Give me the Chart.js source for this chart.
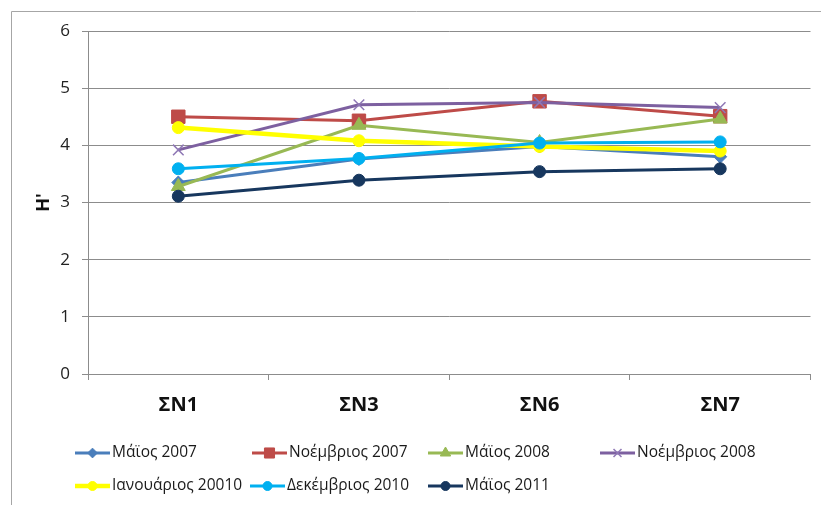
<!DOCTYPE html>
<html>
<head>
<meta charset="utf-8">
<script src="https://cdn.jsdelivr.net/npm/chart.js@4.4.1/dist/chart.umd.min.js"></script>
<style>
  html, body { margin: 0; padding: 0; background: #ffffff; }
  #wrap { width: 821px; height: 505px; position: relative; }
</style>
</head>
<body>
<div id="wrap"><canvas id="c" width="821" height="505"></canvas></div>
<script>
// Stations (x categories) and y-axis ticks
const stations = ['ΣΝ1', 'ΣΝ3', 'ΣΝ6', 'ΣΝ7'];
const yTicks = [0, 1, 2, 3, 4, 5, 6];

// Shannon diversity H' per sampling campaign
const seriesNames = ['Μάϊος 2007', 'Νοέμβριος 2007', 'Μάϊος 2008', 'Νοέμβριος 2008',
                     'Ιανουάριος 20010', 'Δεκέμβριος 2010', 'Μάϊος 2011'];
const may2007 = [3.35, 3.76, 3.98, 3.80];
const nov2007 = [4.50, 4.43, 4.77, 4.51];
const may2008 = [3.28, 4.35, 4.05, 4.46];
const nov2008 = [3.92, 4.71, 4.75, 4.66];
const jan2010 = [4.31, 4.08, 3.98, 3.90];
const dec2010 = [3.59, 3.77, 4.04, 4.06];
const may2011 = [3.11, 3.39, 3.54, 3.59];

const seriesValues = [may2007, nov2007, may2008, nov2008, jan2010, dec2010, may2011];

// Line colour, marker shape, marker radius, line width for each series
const styles = [
  { color: '#4A7EBB', point: 'rectRot',  r: 6.5, w: 3 },
  { color: '#BE4B48', point: 'rect',     r: 9.5, w: 3 },
  { color: '#98B954', point: 'triangle', r: 8,   w: 3 },
  { color: '#7D60A0', point: 'crossRot', r: 7.5, w: 3 },
  { color: '#FFFF00', point: 'circle',   r: 6,   w: 4.5 },
  { color: '#00B0F0', point: 'circle',   r: 6,   w: 3 },
  { color: '#17375E', point: 'circle',   r: 6,   w: 3 }
];

const FONT = '"Open Sans", "Noto Sans", "DejaVu Sans", sans-serif';
const n = seriesValues.length;

const datasets = seriesValues.map((vals, i) => {
  const s = styles[i];
  return {
    label: seriesNames[i],
    data: vals,
    borderColor: s.color,
    backgroundColor: s.color,
    borderWidth: s.w,
    pointStyle: s.point,
    pointRadius: s.r,
    pointHoverRadius: s.r,
    pointBackgroundColor: s.color,
    pointBorderColor: s.point === 'crossRot' ? '#8F78B5' : s.color,
    pointBorderWidth: s.point === 'crossRot' ? 1.5 : 1,
    tension: 0,
    fill: false,
    order: n - 1 - i   // later campaigns drawn on top
  };
});

// Legend slot for each series: left end of the sample line and its row
const legendSlots = [
  { x: 75,  y: 453 }, { x: 252, y: 453 }, { x: 428, y: 453 }, { x: 600, y: 453 },
  { x: 75,  y: 486 }, { x: 250, y: 486 }, { x: 428, y: 486 }
];

const framePlugin = {
  id: 'frame',
  beforeDraw(chart) {
    const ctx = chart.ctx;
    ctx.save();
    ctx.fillStyle = '#ffffff';
    ctx.fillRect(0, 0, chart.width, chart.height);
    ctx.strokeStyle = '#a6a6a6';
    ctx.lineWidth = 1;
    ctx.beginPath();
    ctx.moveTo(11.5, chart.height);
    ctx.lineTo(11.5, 11.5);
    ctx.lineTo(chart.width, 11.5);
    ctx.stroke();
    ctx.restore();
  }
};

const legendPlugin = {
  id: 'gridLegend',
  afterDraw(chart) {
    const ctx = chart.ctx;
    chart.data.datasets.forEach((ds, i) => {
      const p = legendSlots[i];
      const lineLen = 35;
      ctx.save();
      ctx.strokeStyle = ds.borderColor;
      ctx.lineWidth = ds.borderWidth;
      ctx.beginPath();
      ctx.moveTo(p.x, p.y);
      ctx.lineTo(p.x + lineLen, p.y);
      ctx.stroke();
      ctx.fillStyle = ds.pointBackgroundColor;
      ctx.strokeStyle = ds.pointBorderColor;
      ctx.lineWidth = ds.pointBorderWidth;
      const opts = { pointStyle: ds.pointStyle, radius: ds.pointRadius * 0.75, rotation: 0, borderWidth: ds.pointBorderWidth };
      if (Chart.helpers && Chart.helpers.drawPoint) {
        Chart.helpers.drawPoint(ctx, opts, p.x + lineLen / 2, p.y);
      } else {
        ctx.beginPath();
        ctx.arc(p.x + lineLen / 2, p.y, opts.radius, 0, Math.PI * 2);
        ctx.fill();
      }
      ctx.fillStyle = '#1a1a1a';
      ctx.font = '15.5px ' + FONT;
      ctx.textBaseline = 'middle';
      ctx.textAlign = 'left';
      ctx.fillText(ds.label, p.x + lineLen + 2, p.y);
      ctx.restore();
    });
  }
};

new Chart(document.getElementById('c'), {
  type: 'line',
  data: { labels: stations, datasets: datasets },
  plugins: [framePlugin, legendPlugin],
  options: {
    responsive: false,
    animation: false,
    events: [],
    layout: { padding: { left: 0, right: 7, top: 31, bottom: 0 } },
    plugins: {
      legend: { display: false },
      tooltip: { enabled: false },
      title: { display: false }
    },
    scales: {
      x: {
        type: 'category',
        offset: true,
        grid: { display: true, drawOnChartArea: false, drawTicks: true, tickLength: 6, offset: true, color: '#8c8c8c' },
        border: { display: true, color: '#8c8c8c', width: 1 },
        ticks: { font: { family: FONT, size: 20, weight: 'bold' }, color: '#111111', padding: 13, maxRotation: 0 },
        afterFit(scale) { scale.height = 131; }
      },
      y: {
        min: 0,
        max: 6,
        afterBuildTicks(scale) { scale.ticks = yTicks.map(v => ({ value: v })); },
        grid: { color: '#8c8c8c', tickLength: 6, drawTicks: true },
        border: { display: true, color: '#8c8c8c', width: 1 },
        ticks: { font: { family: FONT, size: 17 }, color: '#222222', padding: 12 },
        title: {
          display: true,
          text: "H'",
          font: { family: FONT, size: 18, weight: 'bold' },
          color: '#111111',
          padding: { top: 33, bottom: 0 }
        },
        afterFit(scale) { scale.width = 88; }
      }
    }
  }
});
</script>
</body>
</html>
